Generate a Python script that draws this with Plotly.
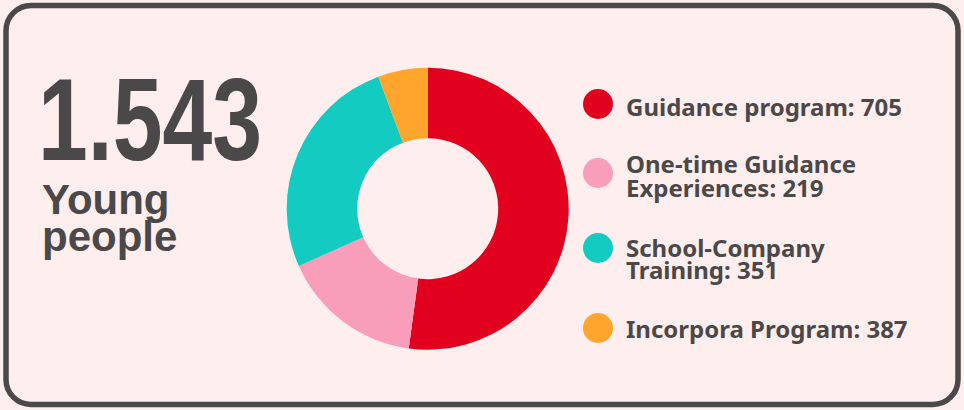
import plotly.graph_objects as go

W, H = 964, 410

# ---- data ----
categories = ["Guidance program", "One-time Guidance Experiences",
              "School-Company Training", "Incorpora Program"]
legend_counts = [705, 219, 351, 387]
slice_values = [705, 219, 351, 77]          # slice sizes as drawn in the donut
label_lines = [["Guidance program: {}"],
               ["One-time Guidance", "Experiences: {}"],
               ["School-Company", "Training: {}"],
               ["Incorpora Program: {}"]]
colors = ["#E2001F", "#F89DBA", "#13CBC0", "#FFA52E"]
total_text = "1.543"
subtitle_lines = ["Young", "people"]

BG = "#FFEEEE"
INK = "#4A4848"

def px(x):
    return x / W

def py(y):
    return 1 - y / H

fig = go.Figure()

# donut
cx, cy, r = 427.7, 208.7, 141
fig.add_trace(go.Pie(
    labels=categories, values=slice_values, hole=0.5, sort=False,
    direction="clockwise", rotation=0, textinfo="none", hoverinfo="label+value",
    marker=dict(colors=colors, line=dict(width=0)), showlegend=False,
    domain=dict(x=[px(cx - r), px(cx + r)], y=[py(cy + r), py(cy - r)]),
))

annotations = []
shapes = []

# rounded border
x0, y0, x1, y1, rad = 6, 5.5, 958, 404.5, 25
k = 0.5523 * rad
def P(x, y):
    return f"{px(x):.6f},{py(y):.6f}"
path = (f"M {P(x0 + rad, y0)} L {P(x1 - rad, y0)} "
        f"C {P(x1 - rad + k, y0)} {P(x1, y0 + rad - k)} {P(x1, y0 + rad)} "
        f"L {P(x1, y1 - rad)} "
        f"C {P(x1, y1 - rad + k)} {P(x1 - rad + k, y1)} {P(x1 - rad, y1)} "
        f"L {P(x0 + rad, y1)} "
        f"C {P(x0 + rad - k, y1)} {P(x0, y1 - rad + k)} {P(x0, y1 - rad)} "
        f"L {P(x0, y0 + rad)} "
        f"C {P(x0, y0 + rad - k)} {P(x0 + rad - k, y0)} {P(x0 + rad, y0)} Z")
shapes.append(dict(type="path", xref="paper", yref="paper", path=path,
                   line=dict(color=INK, width=5.5), layer="above"))

# big number (condensed via post_script) + subtitle
annotations.append(dict(text=f"<b>{total_text}</b>", x=px(36), y=py(119),
                        xanchor="left", yanchor="middle", showarrow=False,
                        font=dict(family="Liberation Sans", size=117, color=INK)))
sub_y = [199, 237]
for t, yy in zip(subtitle_lines, sub_y):
    annotations.append(dict(text=f"<b>{t}</b>", x=px(40), y=py(yy),
                            xanchor="left", yanchor="middle", showarrow=False,
                            font=dict(family="Liberation Sans", size=42, color=INK)))

# legend
marker_y = [104, 173, 248, 328]
line_y = [[106], [163, 188], [247, 269], [328]]
for i in range(len(categories)):
    shapes.append(dict(type="circle", xref="paper", yref="paper",
                       xsizemode="pixel", ysizemode="pixel",
                       xanchor=px(598), yanchor=py(marker_y[i]),
                       x0=-15, x1=15, y0=-15, y1=15,
                       fillcolor=colors[i], line=dict(width=0)))
    for ln, yy in zip(label_lines[i], line_y[i]):
        annotations.append(dict(text=f"<b>{ln.format(legend_counts[i])}</b>",
                                x=px(624), y=py(yy), xanchor="left", yanchor="middle",
                                showarrow=False,
                                font=dict(family="Noto Sans", size=24, color=INK)))

fig.update_layout(width=W, height=H, autosize=False,
                  margin=dict(l=0, r=0, t=0, b=0),
                  paper_bgcolor=BG, plot_bgcolor=BG,
                  annotations=annotations, shapes=shapes)

post = """
document.body.style.margin='0';
(function(){
  var gd = document.getElementById('{plot_id}');
  function fix(){
    var els = gd.querySelectorAll('text.annotation-text');
    els.forEach(function(el){
      if (el.textContent.trim() === '%s') {
        el.style.transformBox = 'fill-box';
        el.style.transformOrigin = 'left center';
        el.style.transform = 'scaleX(0.765)';
      }
    });
  }
  fix();
  setTimeout(fix, 0);
  if (gd && gd.on) { gd.on('plotly_afterplot', fix); }
})();
""" % total_text

fig.write_html("out.html", post_script=post, config={"displayModeBar": False})
